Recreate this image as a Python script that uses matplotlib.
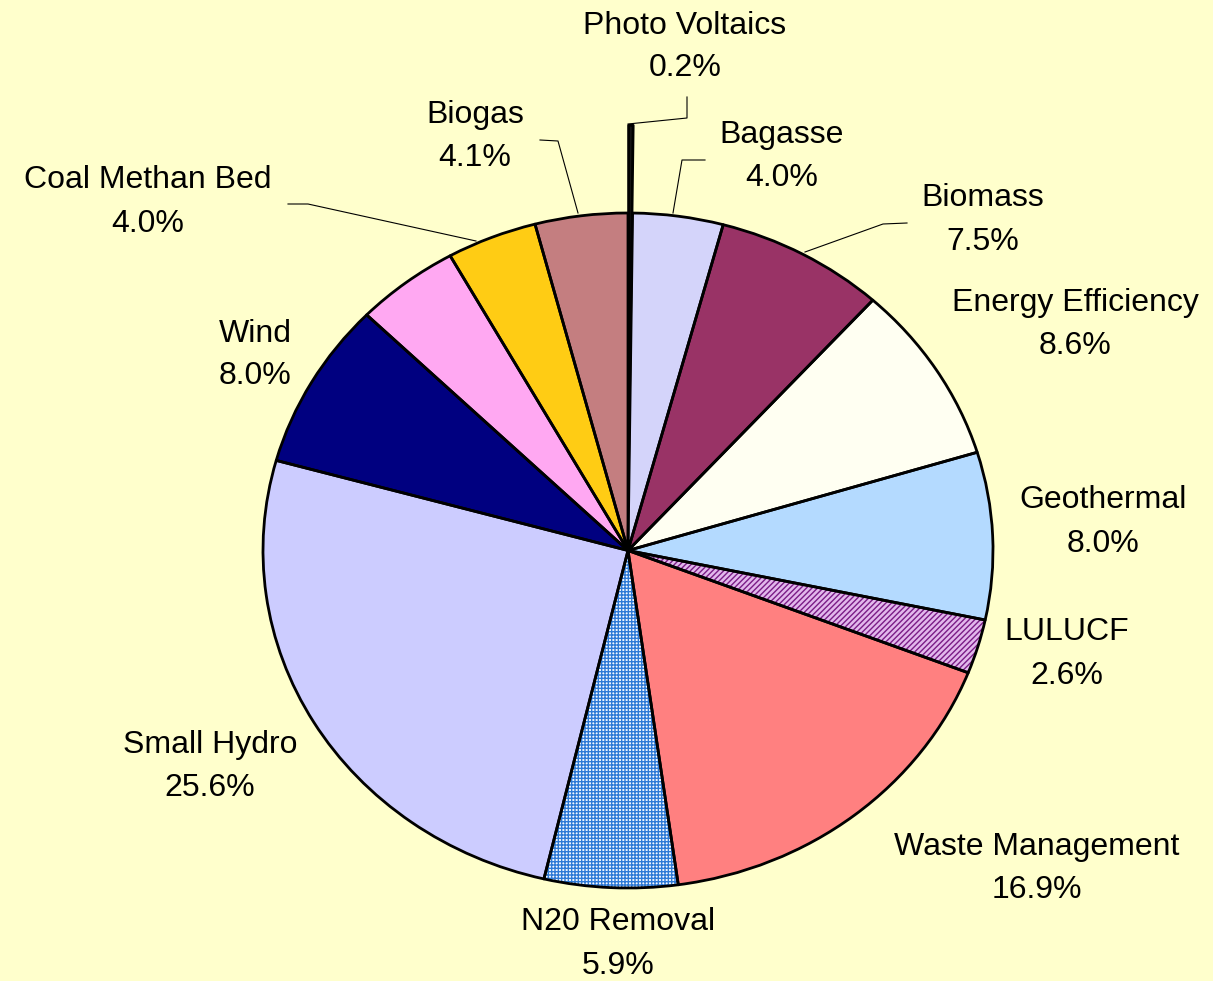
import matplotlib.pyplot as plt
import numpy as np

# slice data, clockwise from 12 o'clock
labels = ['Photo Voltaics', 'Bagasse', 'Biomass', 'Energy Efficiency', 'Geothermal',
          'LULUCF', 'Waste Management', 'N20 Removal', 'Small Hydro', 'Wind',
          '', 'Coal Methan Bed', 'Biogas']
shares = [0.2, 4.0, 7.5, 8.6, 8.0, 2.6, 16.9, 5.9, 25.6, 8.0, 4.6, 4.0, 4.1]

colors = ['#141414', '#D4D4FA', '#993366', '#FFFFF2', '#B4DAFF', '#E2B8EC',
          '#FF8080', '#F4F8FF', '#CCCCFF', '#000080', '#FFA8F2', '#FFCC14', '#C47E80']
hatches = [None, None, None, None, None, '//////', None, '+++++', None, None, None, None, None]
hatch_colors = [None, None, None, None, None, '#7A1C86', None, '#2E7AD6', None, None, None, None, None]
explode = [0.26] + [0] * (len(shares) - 1)

# label anchors (pixel coords, centre of the two text lines)
label_pos = {
    'Photo Voltaics': (685, 47),
    'Bagasse': (782, 157),
    'Biomass': (983, 220),
    'Energy Efficiency': (1075, 325),
    'Geothermal': (1103, 522),
    'LULUCF': (1067, 654),
    'Waste Management': (1037, 868),
    'N20 Removal': (618, 944),
    'Small Hydro': (210, 767),
    'Wind': (255, 355),
    'Coal Methan Bed': (148, 202),
    'Biogas': (475, 137),
}
leaders = {
    'Photo Voltaics': [(687, 97), (687, 118), (628, 124)],
    'Bagasse': [(705, 160), (682, 160), (673, 213)],
    'Biomass': [(907, 223), (883, 224), (805, 252)],
    'Coal Methan Bed': [(288, 204), (308, 204), (476, 241)],
    'Biogas': [(540, 140), (558, 141), (578, 213)],
}

W, H = 1213, 981
cx, cy, rx, ry = 628, 550.5, 365, 337.5

fig = plt.figure(figsize=(W / 100, H / 100), dpi=100)
fig.patch.set_facecolor('#FFFFCC')

# pie axes sized so the pie comes out slightly wider than tall
ax = fig.add_axes([(cx - rx) / W, (H - cy - ry) / H, 2 * rx / W, 2 * ry / H])
ax.set_facecolor('none')

# fill layer (hatch colour follows edgecolor, so no outline here)
wedges, _ = ax.pie(shares, colors=colors, startangle=90, counterclock=False,
                   explode=explode, wedgeprops=dict(linewidth=0))
for w, h, hc in zip(wedges, hatches, hatch_colors):
    w.set_clip_on(False)
    if h:
        w.set_hatch(h)
        w.set_edgecolor(hc)
        w.set_linewidth(0)

# outline layer
outl, _ = ax.pie(shares, colors=['none'] * len(shares), startangle=90,
                 counterclock=False, explode=explode,
                 wedgeprops=dict(edgecolor='black', linewidth=2.0, joinstyle='round'))
for w in outl:
    w.set_clip_on(False)
    w.set_facecolor('none')

ax.set_aspect('auto')
ax.set_xlim(-1, 1)
ax.set_ylim(-1, 1)
ax.axis('off')

# overlay axes in pixel coords for labels and leader lines
ov = fig.add_axes([0, 0, 1, 1])
ov.set_xlim(0, W)
ov.set_ylim(H, 0)
ov.axis('off')
ov.patch.set_alpha(0)

font = dict(family=['Liberation Sans', 'DejaVu Sans'], fontsize=23, color='black')
for name, val in zip(labels, shares):
    if not name:
        continue
    x, y = label_pos[name]
    ov.text(x, y - 21.5, name, ha='center', va='center', **font)
    ov.text(x, y + 21.5, f'{val:.1f}%', ha='center', va='center', **font)

for name, pts in leaders.items():
    xs, ys = zip(*pts)
    ov.plot(xs, ys, color='black', linewidth=0.8)

fig.savefig('out.png', dpi=100, facecolor=fig.get_facecolor())
